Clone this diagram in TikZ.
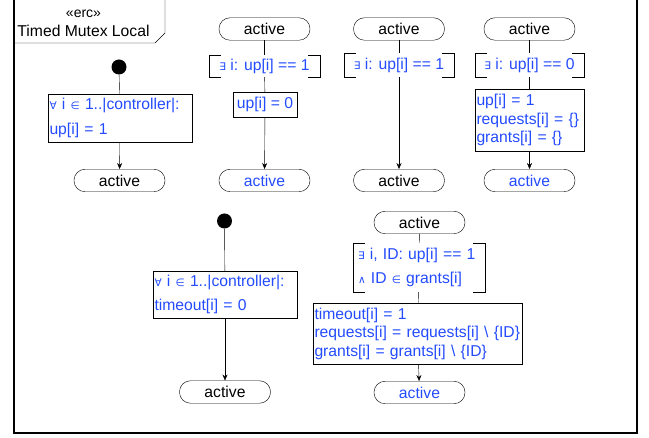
\documentclass[tikz,border=0pt]{standalone}
\usepackage{fontspec}
\setmainfont{Liberation Sans}
\newfontfamily\symfont{DejaVu Sans}
\usetikzlibrary{arrows.meta}
\definecolor{ercblue}{RGB}{35,75,255}
\newcommand{\uml}{\fontsize{15.7}{18.5}\selectfont}
\newcommand{\sy}[1]{{\symfont\fontsize{10.5}{12}\selectfont#1}}
% square brackets round a guard
\newcommand{\brk}[1]{%
  \draw[thin] ([xshift=12pt]#1.north west) -| (#1.south west) -- ++(12pt,0);
  \draw[thin] ([xshift=-12pt]#1.north east) -| (#1.south east) -- ++(-12pt,0);}
\tikzset{
  state/.style={draw,thin,rounded corners=11pt,minimum width=91pt,minimum height=22.5pt,inner sep=0pt,font=\uml},
  newstate/.style={state,text=ercblue},
  init/.style={circle,fill=black,minimum size=15pt,inner sep=0pt},
  action/.style={draw,thin,align=left,inner sep=1.5pt,text=ercblue,font=\uml},
  guard/.style={align=center,inner sep=0pt,text=ercblue,font=\uml},
  flow/.style={-{Stealth[length=6pt,width=5pt]},thin},
}

\begin{document}
\begin{tikzpicture}[x=1pt,y=-1pt]
\useasboundingbox (0,0) rectangle (649,438);
% frame and its name tag
\draw[line width=1.2pt] (14,-2) rectangle (637,433);
\draw[thin] (165,-2) -- (165,33) -- (155,43) -- (14,43);
\node[font=\fontsize{14}{16}\selectfont] (stereo) at (83.5,14) {«erc»};
\node[font=\uml] (title) at (83.5,31) {Timed Mutex Local};

% init of up[]
\node[init] (i1) at (119,67) {};
\node[action,text width=141pt,minimum height=48pt] (b1) at (120,118)
  {\sy{∀} i \sy{∈} 1..|controller|:\\[7pt]up[i] = 1};
\node[state] (s1) at (119.5,180.5) {active};
\path[draw,thin] (i1) -- (b1);
\path[draw,flow] (b1) -- (s1);

% up[i] goes down
\node[state] (a2) at (264.5,29) {active};
\node[guard,minimum width=111pt,minimum height=22pt] (g2) at (264.5,66) {\sy{∃} i: up[i] == 1};
\node[action,minimum width=64pt,minimum height=25pt] (b2) at (265,104.5) {up[i] = 0};
\node[newstate] (s2) at (264.5,180.5) {active};
\brk{g2}
\path[draw,thin] (a2) -- (g2);
\path[draw,thin] (g2) -- (b2);
\path[draw,flow] (b2) -- (s2);

% up[i] stays
\node[state] (a3) at (399,29) {active};
\node[guard,minimum width=110pt,minimum height=24pt] (g3) at (399,65) {\sy{∃} i: up[i] == 1};
\node[state] (s3) at (399,180.5) {active};
\brk{g3}
\path[draw,thin] (a3) -- (g3);
\path[draw,flow] (g3) -- (s3);

% up[i] comes back
\node[state] (a4) at (529.5,29) {active};
\node[guard,minimum width=109pt,minimum height=24pt] (g4) at (529.5,65) {\sy{∃} i: up[i] == 0};
\node[action,text width=106pt,minimum height=62pt] (b4) at (529.5,120)
  {up[i] = 1\\requests[i] = \{\}\\grants[i] = \{\}};
\node[newstate] (s4) at (529.5,180.5) {active};
\brk{g4}
\path[draw,thin] (a4) -- (g4);
\path[draw,thin] (g4) -- (b4);
\path[draw,flow] (b4) -- (s4);

% init of timeout[]
\node[init] (i5) at (224.5,221) {};
\node[action,text width=141pt,minimum height=47pt] (b5) at (225,294.5)
  {\sy{∀} i \sy{∈} 1..|controller|:\\[6pt]timeout[i] = 0};
\node[state] (s5) at (225,392) {active};
\path[draw,thin] (i5) -- (b5);
\path[draw,flow] (b5) -- (s5);

% timeout
\node[state] (a6) at (419.5,222.5) {active};
\node[guard,align=left,text width=122pt,inner xsep=5pt,minimum height=49pt] (g6) at (419,267.5)
  {\sy{∃} i, ID: up[i] == 1\\[6pt]\sy{∧} ID \sy{∈} grants[i]};
\node[action,text width=206pt,minimum height=61pt] (b6) at (417.5,333.5)
  {timeout[i] = 1\\requests[i] = requests[i] \textbackslash\ \{ID\}\\grants[i] = grants[i] \textbackslash\ \{ID\}};
\node[newstate] (s6) at (419.5,392.5) {active};
\brk{g6}
\path[draw,thin] (a6) -- (g6);
\path[draw,thin] (g6) -- (b6);
\path[draw,flow] (b6) -- (s6);
\end{tikzpicture}
\end{document}
